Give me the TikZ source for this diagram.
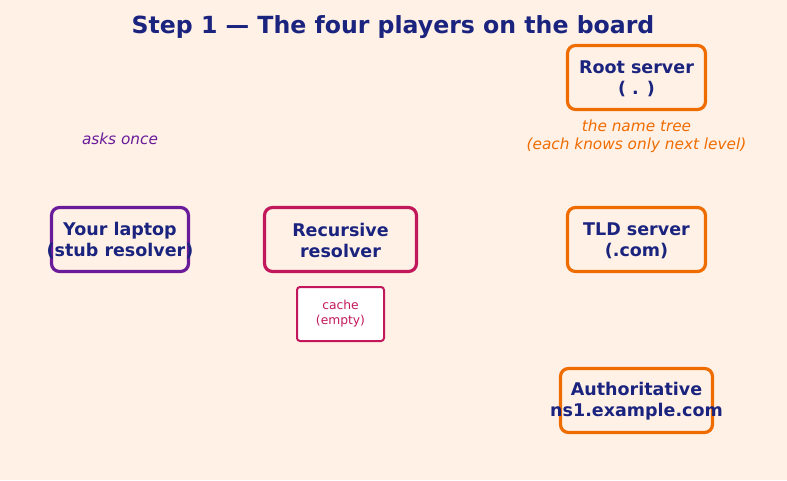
\documentclass[tikz,border=0pt]{standalone}
\usepackage{fontspec}
\setmainfont{DejaVu Sans}
\definecolor{bgc}{HTML}{FFF1E6}
\definecolor{navy}{HTML}{1A237E}
\definecolor{purp}{HTML}{6A1B9A}
\definecolor{crim}{HTML}{C2185B}
\definecolor{orng}{HTML}{EF6C00}
\begin{document}
\begin{tikzpicture}[x=1pt,y=-1pt,
  box/.style={draw, line width=3.2pt, rounded corners=8pt, inner sep=0pt},
  lbl/.style={text=navy, align=center, font=\bfseries\fontsize{17.5}{21}\selectfont, inner sep=0pt},
  note/.style={align=center, font=\itshape\fontsize{15.3}{18}\selectfont, inner sep=0pt}]
\fill[bgc] (0,0) rectangle (787,480);
\useasboundingbox (0,0) rectangle (787,480);
\node[text=navy, font=\bfseries\fontsize{23.6}{27}\selectfont] (title) at (393,27) {Step 1 — The four players on the board};
% boxes
\node[box, draw=orng, minimum width=138pt, minimum height=64pt] (root) at (636.5,77.5) {};
\node[lbl] (roott) at ([yshift=-1pt]root.center) {Root server\\( . )};
\node[box, draw=purp, minimum width=137pt, minimum height=64pt] (laptop) at (120,239.5) {};
\node[lbl] (laptopt) at ([yshift=-1pt]laptop.center) {Your laptop\\(stub resolver)};
\node[box, draw=crim, minimum width=152pt, minimum height=64pt] (rec) at (340.5,239.5) {};
\node[lbl] (rect) at ([yshift=-1pt]rec.center) {Recursive\\resolver};
\node[box, draw=orng, minimum width=138pt, minimum height=64pt] (tld) at (636.5,239.5) {};
\node[lbl] (tldt) at ([yshift=-1pt]tld.center) {TLD server\\(.com)};
\node[box, draw=orng, minimum width=152pt, minimum height=64pt] (auth) at (636.5,400.5) {};
\node[lbl] (autht) at ([yshift=-1pt]auth.center) {Authoritative\\ns1.example.com};
\node[draw=crim, fill=white, line width=2pt, rounded corners=3pt, minimum width=87pt, minimum height=54pt, inner sep=0pt] (cache) at (340.5,314) {};
\node[text=crim, align=center, font=\fontsize{12.3}{15}\selectfont, inner sep=0pt] (cachet) at (cache.center) {cache\\(empty)};
% notes
\node[note, text=orng] (tree) at (636.5,136.5) {the name tree\\(each knows only next level)};
\node[note, text=purp] (asks) at (120,138.5) {asks once};
\end{tikzpicture}
\end{document}
